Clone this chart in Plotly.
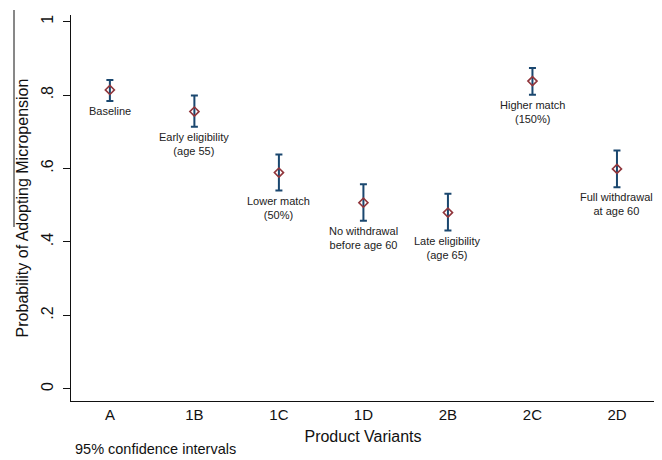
import plotly.graph_objects as go

variants = ["A", "1B", "1C", "1D", "2B", "2C", "2D"]
labels = ["Baseline", "Early eligibility<br>(age 55)", "Lower match<br>(50%)",
          "No withdrawal<br>before age 60", "Late eligibility<br>(age 65)",
          "Higher match<br>(150%)", "Full withdrawal<br>at age 60"]
estimate = [0.814, 0.755, 0.589, 0.507, 0.480, 0.838, 0.599]
upper = [0.841, 0.799, 0.638, 0.557, 0.531, 0.874, 0.649]
lower = [0.784, 0.714, 0.540, 0.458, 0.431, 0.801, 0.549]
ytick_vals = [0, 0.2, 0.4, 0.6, 0.8, 1]
ytick_text = ["0", ".2", ".4", ".6", ".8", "1"]

xpos = list(range(1, len(variants) + 1))
err_plus = [u - e for u, e in zip(upper, estimate)]
err_minus = [e - l for e, l in zip(estimate, lower)]

FONT = "Liberation Sans, Arial, sans-serif"
PLOT_H = 386
PLOT_W = 584

fig = go.Figure()
fig.add_trace(go.Scatter(
    x=xpos, y=estimate, mode="markers",
    marker=dict(symbol="diamond-open", size=7, color="#90353b", line=dict(width=1.6, color="#90353b")),
    error_y=dict(type="data", array=err_plus, arrayminus=err_minus, symmetric=False,
                 color="#1a476f", thickness=2, width=3.5),
    showlegend=False, hoverinfo="skip",
))

for x, lo, txt in zip(xpos, lower, labels):
    fig.add_annotation(x=x, y=lo, text=txt, showarrow=False, yanchor="top", yshift=-2,
                       font=dict(family=FONT, size=11, color="#222222"))

fig.add_annotation(xref="paper", yref="paper", x=2 / PLOT_W, y=-(459 - 401) / PLOT_H,
                   xanchor="left", yanchor="bottom",
                   text="95% confidence intervals", showarrow=False,
                   font=dict(family=FONT, size=14.5, color="#111111"))

fig.add_shape(type="line", xref="paper", yref="paper",
              x0=-57 / PLOT_W, x1=-57 / PLOT_W, y0=(401 - 10) / PLOT_H, y1=(401 - 227) / PLOT_H,
              line=dict(color="#111111", width=1))

fig.update_layout(
    width=654, height=452,
    margin=dict(l=63, r=7, t=7, b=59),
    paper_bgcolor="white", plot_bgcolor="white",
    font=dict(family=FONT, color="#111111"),
    xaxis=dict(range=[0.54, 7.45], tickvals=xpos, ticktext=variants, showgrid=False,
               zeroline=False, showline=True, linecolor="#111111", linewidth=1.2,
               ticks="", automargin=False, ticklabelstandoff=0,
               tickfont=dict(size=15, family=FONT, color="#111111"),
               title=dict(text="Product Variants", font=dict(size=16, family=FONT, color="#111111"), standoff=8)),
    yaxis=dict(range=[-0.033, 1.018], tickvals=ytick_vals, ticktext=ytick_text, tickangle=-90,
               showgrid=False, zeroline=False, showline=True, linecolor="#111111", linewidth=1.2,
               ticks="outside", ticklen=7, tickcolor="#111111", automargin=False, ticklabelstandoff=4,
               tickfont=dict(size=16, family=FONT, color="#111111"),
               title=dict(text="Probability of Adopting Micropension", font=dict(size=16, family=FONT, color="#111111"), standoff=5)),
)

fig.write_html("out.html")
